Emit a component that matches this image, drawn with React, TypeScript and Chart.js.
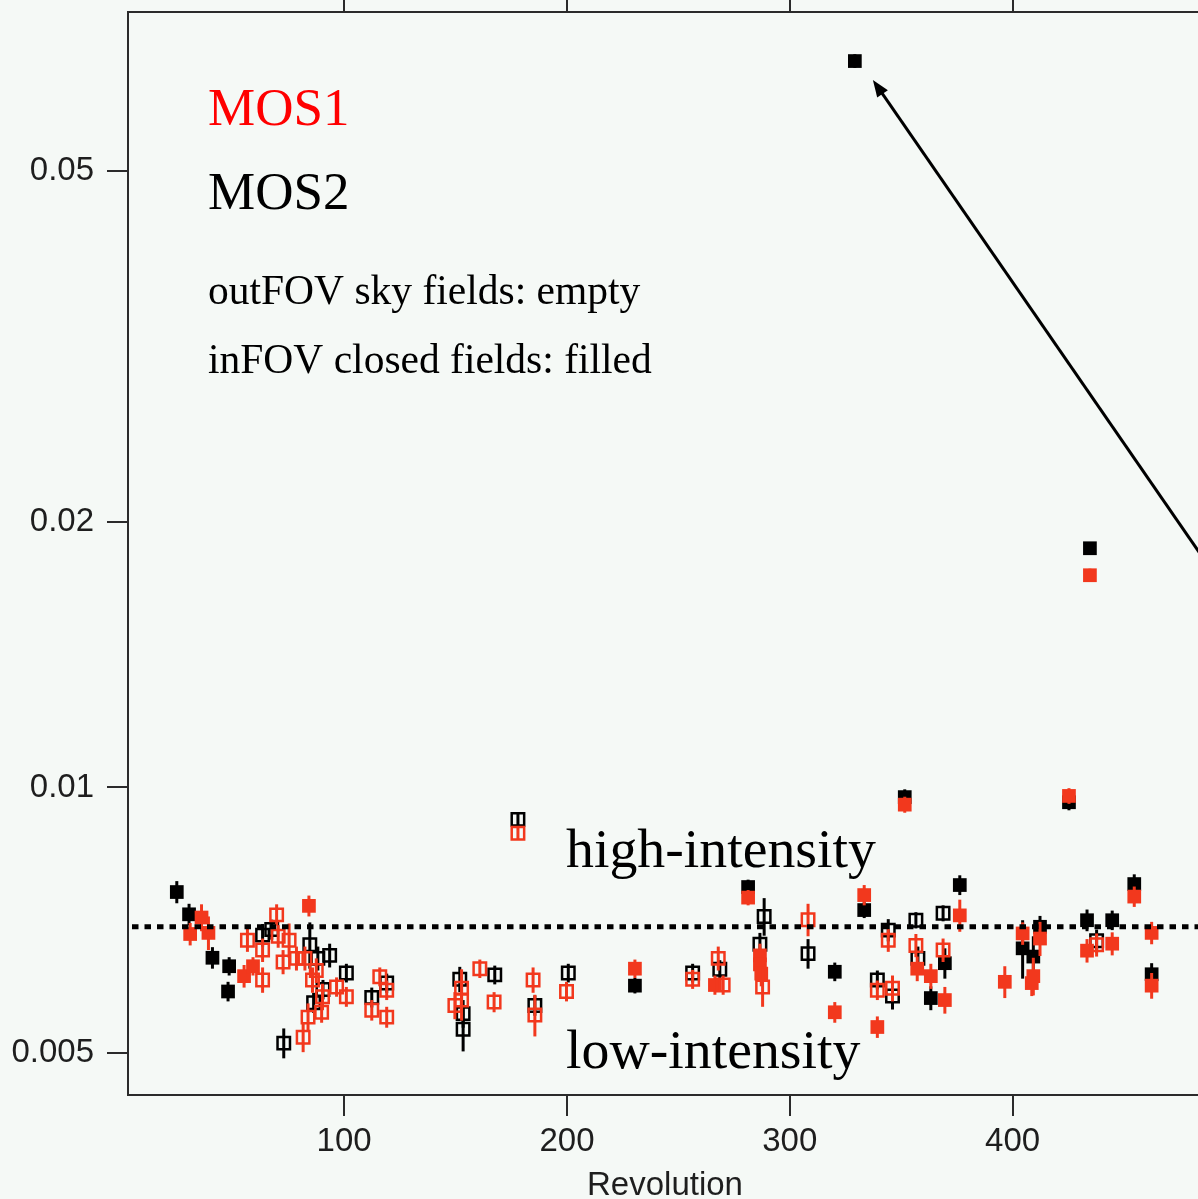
import React, { useEffect, useRef } from 'react';
import { Chart, registerables } from 'chart.js';

Chart.register(...registerables);

// ---------- data ----------
const xTicks = [100, 200, 300, 400];
const yTicks = [0.005, 0.01, 0.02, 0.05];
const xRange = [3, 485];
const yRange = [0.00448, 0.0757];
const threshold = 0.00695;
const arrowTip = [337.3, 0.0634];
const arrowTail = [495, 0.0168];

// [revolution, rate, error]
const mos2Filled: [number, number, number][] = [
  [24.9, 0.00761, 0.00022],
  [30.4, 0.00718, 0.0002],
  [40.9, 0.00641, 0.00018],
  [48.4, 0.00627, 0.00015],
  [47.9, 0.00587, 0.00015],
  [230.5, 0.00596, 0.00012],
  [281.3, 0.00771, 0.00015],
  [320.2, 0.00618, 0.00015],
  [329.2, 0.0666, 0.0012],
  [333.4, 0.00726, 0.00015],
  [351.6, 0.00975, 0.0002],
  [363.3, 0.00577, 0.00018],
  [369.6, 0.00632, 0.00025],
  [376.3, 0.00775, 0.0002],
  [404.5, 0.00657, 0.0005],
  [409.3, 0.00643, 0.00035],
  [412.3, 0.00695, 0.0002],
  [425.3, 0.00962, 0.0002],
  [433.4, 0.00707, 0.0002],
  [434.7, 0.01867, 0.0003],
  [444.7, 0.00707, 0.00018],
  [454.6, 0.00777, 0.0002],
  [462.4, 0.00614, 0.00018],
];

const mos1Filled: [number, number, number][] = [
  [30.9, 0.00682, 0.0002],
  [36.0, 0.00712, 0.00025],
  [39.1, 0.00684, 0.0003],
  [55.1, 0.00611, 0.00018],
  [59.1, 0.00627, 0.00015],
  [84.2, 0.00734, 0.0002],
  [230.5, 0.00623, 0.00015],
  [266.4, 0.00597, 0.00015],
  [281.3, 0.0075, 0.00015],
  [286.6, 0.00645, 0.0002],
  [286.6, 0.0063, 0.0002],
  [287.2, 0.00615, 0.0002],
  [320.2, 0.00556, 0.00015],
  [333.4, 0.00755, 0.0002],
  [339.3, 0.00535, 0.00015],
  [351.6, 0.00956, 0.0002],
  [357.2, 0.00623, 0.0002],
  [363.3, 0.00611, 0.0002],
  [369.6, 0.00574, 0.0002],
  [376.3, 0.00716, 0.0003],
  [396.5, 0.00602, 0.00025],
  [404.5, 0.00683, 0.0002],
  [408.6, 0.006, 0.0002],
  [409.3, 0.00611, 0.0003],
  [412.3, 0.00674, 0.0003],
  [425.3, 0.00978, 0.0002],
  [433.4, 0.00653, 0.0002],
  [434.7, 0.0174, 0.0003],
  [444.7, 0.00665, 0.0002],
  [454.6, 0.00752, 0.0002],
  [462.4, 0.00684, 0.0002],
  [462.4, 0.00596, 0.0002],
];

const mos2Empty: [number, number, number][] = [
  [63.4, 0.0068, 0.0002],
  [67.5, 0.0069, 0.00018],
  [72.9, 0.00513, 0.0002],
  [84.6, 0.00663, 0.0004],
  [86.3, 0.0057, 0.00015],
  [88.2, 0.0064, 0.0002],
  [90.5, 0.0059, 0.00015],
  [93.5, 0.00645, 0.0002],
  [101.0, 0.00616, 0.00015],
  [112.4, 0.00578, 0.00015],
  [119.1, 0.006, 0.00015],
  [151.9, 0.00606, 0.0002],
  [153.4, 0.00554, 0.0002],
  [153.4, 0.00532, 0.0003],
  [167.6, 0.00613, 0.00015],
  [178.0, 0.0092, 0.00015],
  [185.6, 0.00566, 0.00015],
  [200.6, 0.00616, 0.00015],
  [256.4, 0.00616, 0.00015],
  [268.6, 0.00622, 0.00015],
  [286.6, 0.00664, 0.0002],
  [288.5, 0.00714, 0.00035],
  [308.2, 0.00648, 0.00025],
  [339.3, 0.00605, 0.00015],
  [344.2, 0.00689, 0.0002],
  [346.1, 0.0058, 0.0002],
  [356.6, 0.00707, 0.00015],
  [357.5, 0.0064, 0.0002],
  [368.8, 0.0072, 0.00015],
  [437.7, 0.0067, 0.0002],
];

const mos1Empty: [number, number, number][] = [
  [56.6, 0.00671, 0.0002],
  [63.4, 0.00654, 0.0002],
  [63.4, 0.00605, 0.0002],
  [69.7, 0.00717, 0.0002],
  [70.4, 0.00678, 0.0002],
  [72.6, 0.00634, 0.0002],
  [75.3, 0.00671, 0.0003],
  [78.6, 0.0064, 0.0002],
  [81.6, 0.00521, 0.0002],
  [82.4, 0.0064, 0.0002],
  [83.8, 0.00549, 0.0002],
  [85.8, 0.00605, 0.0002],
  [87.5, 0.0062, 0.0002],
  [89.9, 0.00556, 0.00015],
  [90.3, 0.00579, 0.0002],
  [96.6, 0.00594, 0.00015],
  [101.0, 0.00579, 0.00015],
  [112.4, 0.00559, 0.00015],
  [116.0, 0.0061, 0.00015],
  [119.1, 0.00589, 0.00015],
  [119.1, 0.00549, 0.00015],
  [149.7, 0.00566, 0.0002],
  [152.7, 0.00592, 0.0003],
  [152.7, 0.00574, 0.0003],
  [160.9, 0.00623, 0.00015],
  [167.3, 0.00571, 0.00015],
  [178.0, 0.00887, 0.00015],
  [184.8, 0.00605, 0.0002],
  [185.6, 0.00552, 0.0003],
  [199.8, 0.00587, 0.00015],
  [256.4, 0.00606, 0.00015],
  [267.9, 0.0064, 0.0002],
  [270.1, 0.00597, 0.00015],
  [287.8, 0.00594, 0.0003],
  [308.2, 0.00708, 0.0003],
  [339.3, 0.00589, 0.00015],
  [344.2, 0.00671, 0.0002],
  [346.1, 0.00592, 0.0002],
  [356.6, 0.00662, 0.0002],
  [368.8, 0.00654, 0.0002],
  [437.7, 0.00663, 0.0002],
];

// ---------- styles ----------
const BG = '#f5f9f6';
const RED = '#f2381d';
const BLACK = '#000000';
const AXIS = '#2b2b2b';
const SANS = '"Liberation Sans", Arial, Helvetica, sans-serif';
const SERIF = '"Liberation Serif", "Times New Roman", serif';

const toPts = (arr: [number, number, number][]) => arr.map(([x, y, e]) => ({ x, y, e }));

const bgPlugin = {
  id: 'bgFill',
  beforeDraw(chart: any) {
    const { ctx, width, height } = chart;
    ctx.save();
    ctx.fillStyle = BG;
    ctx.fillRect(0, 0, width, height);
    ctx.restore();
  },
};

const errPlugin = {
  id: 'errBars',
  beforeDatasetDraw(chart: any, args: any) {
    const ds = chart.data.datasets[args.index];
    const xs = chart.scales.x;
    const ys = chart.scales.y;
    const ctx = chart.ctx;
    const a = chart.chartArea;
    ctx.save();
    ctx.beginPath();
    ctx.rect(a.left, a.top, a.right - a.left, a.bottom - a.top);
    ctx.clip();
    ctx.strokeStyle = ds.borderColor;
    ctx.lineWidth = 3;
    ds.data.forEach((p: any) => {
      const px = xs.getPixelForValue(p.x);
      const y1 = ys.getPixelForValue(p.y - p.e);
      const y2 = ys.getPixelForValue(p.y + p.e);
      ctx.beginPath();
      ctx.moveTo(px, y1);
      ctx.lineTo(px, y2);
      ctx.stroke();
    });
    ctx.restore();
  },
};

const annoPlugin = {
  id: 'annotations',
  afterDatasetsDraw(chart: any) {
    const xs = chart.scales.x;
    const ys = chart.scales.y;
    const ctx = chart.ctx;
    const a = chart.chartArea;
    const ty = ys.getPixelForValue(threshold);
    ctx.save();
    ctx.strokeStyle = '#000';
    ctx.lineWidth = 5;
    ctx.setLineDash([6.5, 6]);
    ctx.beginPath();
    ctx.moveTo(a.left + 4, ty);
    ctx.lineTo(a.right, ty);
    ctx.stroke();
    ctx.restore();

    const x1 = xs.getPixelForValue(arrowTail[0]);
    const y1 = ys.getPixelForValue(arrowTail[1]);
    const x2 = xs.getPixelForValue(arrowTip[0]);
    const y2 = ys.getPixelForValue(arrowTip[1]);
    const ang = Math.atan2(y2 - y1, x2 - x1);
    const hl = 17;
    const hw = 6.5;
    ctx.save();
    ctx.strokeStyle = '#000';
    ctx.fillStyle = '#000';
    ctx.lineWidth = 3;
    ctx.beginPath();
    ctx.moveTo(x1, y1);
    ctx.lineTo(x2 - Math.cos(ang) * hl * 0.8, y2 - Math.sin(ang) * hl * 0.8);
    ctx.stroke();
    ctx.beginPath();
    ctx.moveTo(x2, y2);
    ctx.lineTo(x2 - Math.cos(ang) * hl + Math.sin(ang) * hw, y2 - Math.sin(ang) * hl - Math.cos(ang) * hw);
    ctx.lineTo(x2 - Math.cos(ang) * hl - Math.sin(ang) * hw, y2 - Math.sin(ang) * hl + Math.cos(ang) * hw);
    ctx.closePath();
    ctx.fill();
    ctx.restore();
  },
  afterDraw(chart: any) {
    const ctx = chart.ctx;
    ctx.save();
    ctx.textAlign = 'left';
    ctx.textBaseline = 'alphabetic';
    ctx.font = `53px ${SERIF}`;
    ctx.fillStyle = '#ff0000';
    ctx.fillText('MOS1', 208, 125);
    ctx.fillStyle = '#000';
    ctx.fillText('MOS2', 208, 209);
    ctx.font = `41.5px ${SERIF}`;
    ctx.fillText('outFOV sky fields: empty', 208, 304);
    ctx.fillText('inFOV closed fields: filled', 208, 373);
    ctx.font = `55.8px ${SERIF}`;
    ctx.fillText('high-intensity', 566, 867);
    ctx.fillText('low-intensity', 566, 1068);
    ctx.restore();
  },
};

const tickFont = { family: SANS, size: 33 };

export default function App() {
  const ref = useRef<HTMLCanvasElement>(null);
  useEffect(() => {
    const filledCommon = { pointStyle: 'rect', pointRadius: 9.7, pointHoverRadius: 9.7, borderWidth: 0 };
    const emptyCommon = { pointStyle: 'rect', pointRadius: 8.8, pointHoverRadius: 8.8, borderWidth: 2.5 };
    const chart = new Chart(ref.current!, {
      type: 'scatter',
      data: {
        datasets: [
          { label: 'MOS2 outFOV', data: toPts(mos2Empty), backgroundColor: 'rgba(0,0,0,0)', borderColor: BLACK, order: 2, ...emptyCommon },
          { label: 'MOS2 inFOV', data: toPts(mos2Filled), backgroundColor: BLACK, borderColor: BLACK, order: 2, ...filledCommon },
          { label: 'MOS1 outFOV', data: toPts(mos1Empty), backgroundColor: 'rgba(0,0,0,0)', borderColor: RED, order: 1, ...emptyCommon },
          { label: 'MOS1 inFOV', data: toPts(mos1Filled), backgroundColor: RED, borderColor: RED, order: 1, ...filledCommon },
        ] as any,
      },
      options: {
        responsive: false,
        animation: false,
        devicePixelRatio: 1,
        layout: { padding: { left: 0, right: 28, top: 0, bottom: 0 } },
        plugins: { legend: { display: false }, tooltip: { enabled: false } },
        events: [],
        scales: {
          x: {
            type: 'linear',
            position: 'bottom',
            min: xRange[0],
            max: xRange[1],
            afterBuildTicks: (s: any) => { s.ticks = xTicks.map((v) => ({ value: v })); },
            afterFit: (s: any) => { s.height = 111; s.paddingLeft = 0; s.paddingRight = 0; },
            grid: { drawOnChartArea: false, drawTicks: true, tickLength: 21, color: AXIS, lineWidth: 2 },
            border: { display: true, color: AXIS, width: 2 },
            ticks: { font: tickFont, color: '#1e1e1e', padding: 6, maxRotation: 0, autoSkip: false, callback: (v: any) => String(v) },
            title: { display: true, text: 'Revolution', font: tickFont, color: '#1e1e1e', padding: { top: 0, bottom: 0 } },
          },
          x2: {
            type: 'linear',
            position: 'top',
            min: xRange[0],
            max: xRange[1],
            afterBuildTicks: (s: any) => { s.ticks = xTicks.map((v) => ({ value: v })); },
            afterFit: (s: any) => { s.height = 12; s.paddingLeft = 0; s.paddingRight = 0; },
            grid: { drawOnChartArea: false, drawTicks: true, tickLength: 21, color: AXIS, lineWidth: 2 },
            border: { display: true, color: AXIS, width: 2 },
            ticks: { display: false },
          },
          y: {
            type: 'logarithmic',
            position: 'left',
            min: yRange[0],
            max: yRange[1],
            afterBuildTicks: (s: any) => { s.ticks = yTicks.map((v) => ({ value: v })); },
            afterFit: (s: any) => { s.width = 128; s.paddingTop = 0; s.paddingBottom = 0; },
            grid: { drawOnChartArea: false, drawTicks: true, tickLength: 21, color: AXIS, lineWidth: 2 },
            border: { display: true, color: AXIS, width: 2 },
            ticks: { font: tickFont, color: '#1e1e1e', padding: 13, autoSkip: false, callback: (v: any) => String(v) },
          },
        },
      } as any,
      plugins: [bgPlugin, errPlugin, annoPlugin],
    });
    return () => chart.destroy();
  }, []);

  return (
    <div style={{ position: 'fixed', left: 0, top: 0, width: 1198, height: 1199, overflow: 'hidden', background: BG }}>
      <canvas ref={ref} width={1230} height={1206} style={{ display: 'block', width: 1230, height: 1206 }} />
    </div>
  );
}
